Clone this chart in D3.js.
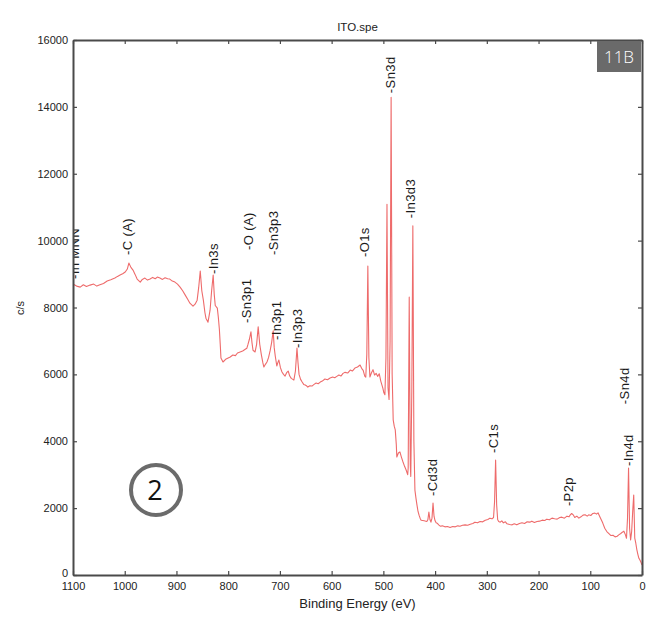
<!DOCTYPE html>
<html>
<head>
<meta charset="utf-8">
<script src="https://cdn.jsdelivr.net/npm/d3@7"></script>
<style>
  html, body { margin: 0; padding: 0; background: #fff; }
  svg { display: block; font-family: "Liberation Sans", Arial, Helvetica, sans-serif; }
</style>
</head>
<body>
<svg id="chart" width="653" height="636"></svg>
<script>
// XPS survey spectrum of an ITO film: binding energy (eV) vs counts per second
const energy = [
  1100,1093,1086,1080,1074,1067,1060,1054,1048,1041,1034,1027,1019,1014,1009,1004,999,995,992,988,
  984,980,976,970,966,961,956,951,946,941,937,932,927,922,917,913,908,903,898,893,
  888,883,878,874,870,868,864,860,857,854,851,848,845,843,839,835,832,829,827,825,
  821,819,817,815,814,810,805,800,796,791,786,782,777,772,767,764,762,759,756,754,
  752,748,745,742,739,736,733,731,728,725,722,719,716,713,711,709,706,704,702,699,
  696,693,690,687,684,681,678,675,673,670,667,665,663,660,657,654,651,648,646,642,
  638,634,630,626,622,618,613,608,603,598,594,590,586,582,578,574,569,564,560,555,
  550,545,542,539,536,534,532,530,528,526,523,520,517,514,511,508,505,501,499,497,
  495,493,491,489,487,485,483,481,479,477,475,474,471,468,465,462,459,456,453,452,
  450,448,447,445,443,441,439,437,435,433,431,429,427,424,421,418,416,414,412,410,
  408,406,404,402,400,398,396,393,390,386,381,376,371,366,361,356,352,347,342,337,
  332,327,323,318,313,308,303,298,294,290,287,285,283,281,279,277,274,271,268,264,
  261,256,251,247,242,237,232,227,222,217,213,208,203,198,193,188,184,179,174,169,
  164,159,155,150,145,141,139,136,133,130,126,122,118,114,110,106,103,99,95,91,
  88,85,82,79,76,72,68,64,60,56,52,48,45,41,38,35,32,30,28,26,
  24,22,20,18,16,14,12,10,8,6,4,2,0
];
const counts = [
  8700,8640,8610,8680,8630,8670,8700,8640,8680,8720,8790,8830,8880,8930,8970,9010,9060,9150,9330,9200,
  9120,8990,8850,8760,8840,8880,8820,8850,8900,8860,8910,8880,8840,8890,8860,8850,8790,8760,8700,8610,
  8500,8370,8240,8130,8070,8040,8100,8220,8600,9090,8500,8220,7850,7680,7560,7920,8500,8970,8400,8060,
  7980,7700,7340,6800,6490,6370,6450,6490,6520,6580,6560,6640,6670,6700,6750,6780,6880,7050,7270,6950,
  6720,6670,6900,7420,6900,6600,6350,6220,6300,6370,6500,6700,6950,7300,6800,6550,6250,6350,6430,6200,
  6070,6000,5950,6050,6100,5950,5880,5850,5830,6100,6790,6350,6000,5850,5770,5700,5680,5650,5620,5660,
  5650,5700,5740,5720,5770,5800,5860,5840,5890,5920,5900,5940,5980,5950,6030,6060,6040,6130,6100,6190,
  6220,6280,6180,6120,5950,5920,6600,9240,6500,5920,6050,6140,5980,6030,5940,6020,5800,5590,5450,5390,
  6500,11090,5600,5250,7000,14290,6000,4640,4450,4340,3900,3530,3650,3680,3520,3380,3250,3140,3000,3200,
  8310,3300,2950,5500,10440,4000,2540,2300,2090,1900,1790,1700,1640,1630,1620,1610,1600,1650,1880,1660,
  1580,1700,2150,1750,1620,1560,1550,1500,1460,1470,1440,1450,1420,1450,1440,1470,1460,1490,1500,1490,
  1520,1540,1580,1560,1600,1590,1640,1660,1700,1680,1720,2200,3440,2100,1650,1600,1580,1620,1560,1590,
  1530,1510,1500,1530,1500,1540,1560,1540,1590,1580,1610,1570,1600,1610,1640,1630,1670,1650,1700,1680,
  1670,1720,1730,1700,1760,1740,1790,1840,1800,1720,1760,1700,1740,1790,1800,1760,1800,1780,1840,1850,
  1820,1860,1760,1660,1560,1400,1300,1240,1180,1190,1140,1160,1200,1240,1280,1310,1200,1100,1700,3200,
  1400,1050,1300,1900,2390,1100,950,760,620,500,450,380,300
];

// Peak annotations: label text, energy of the label, count level where the label starts
const peakNames  = ["-In MNN","-C (A)","-In3s","-O (A)","-Sn3p3","-Sn3p1","-In3p1","-In3p3","-O1s","-Sn3d","-In3d3","-Cd3d","-C1s","-P2p","-In4d","-Sn4d"];
const peakEnergy = [1098, 994, 829, 760, 713, 765, 706, 667, 537, 487, 448, 406, 288, 143, 27, 33];
const peakLevel  = [8850, 9570, 9000, 9720, 9570, 7535, 7030, 6790, 9510, 14410, 10670, 2360, 3650, 2060, 3260, 5110];

const xTicks = [1100,1000,900,800,700,600,500,400,300,200,100,0];
const yTicks = [0,2000,4000,6000,8000,10000,12000,14000,16000];

const svg = d3.select("#chart");
const plot = { left: 73, right: 642, top: 40, bottom: 575 };

const x = d3.scaleLinear().domain([1100, 0]).range([plot.left, plot.right]);
const y = d3.scaleLinear().domain([0, 16000]).range([plot.bottom, plot.top]);

svg.append("defs").append("clipPath").attr("id", "plotClip")
  .append("rect")
  .attr("x", plot.left).attr("y", plot.top)
  .attr("width", plot.right - plot.left).attr("height", plot.bottom - plot.top);

// spectrum trace
const points = energy.map((e, i) => [e, counts[i]]);
const line = d3.line().x(d => x(d[0])).y(d => y(d[1]));
svg.append("path")
  .datum(points)
  .attr("clip-path", "url(#plotClip)")
  .attr("fill", "none")
  .attr("stroke", "#ee6b6b")
  .attr("stroke-width", 1.1)
  .attr("stroke-linejoin", "round")
  .attr("d", line);

// peak labels, rotated to read upward
svg.append("g").attr("clip-path", "url(#plotClip)")
  .selectAll("text")
  .data(peakNames)
  .join("text")
  .attr("transform", (d, i) => `translate(${x(peakEnergy[i])},${y(peakLevel[i])}) rotate(-90)`)
  .attr("dy", "0.35em")
  .attr("font-size", 13)
  .attr("letter-spacing", 0.4)
  .attr("fill", "#1a1a1a")
  .text(d => d);

// axes with inward ticks on all four sides
const axisColor = "#4a4a4a";
function styleAxis(g) {
  g.select(".domain").attr("stroke", axisColor).attr("stroke-width", 2);
  g.selectAll(".tick line").attr("stroke", axisColor).attr("stroke-width", 1.2);
  g.selectAll(".tick text").attr("fill", "#222").attr("font-size", 11)
    .attr("font-family", "'Liberation Sans', Arial, sans-serif");
}

svg.append("g")
  .attr("transform", `translate(0,${plot.bottom})`)
  .call(d3.axisBottom(x).tickValues(xTicks).tickSizeInner(-4).tickSizeOuter(0).tickPadding(7).tickFormat(d3.format("d")))
  .call(styleAxis);

svg.append("g")
  .attr("transform", `translate(0,${plot.top})`)
  .call(d3.axisTop(x).tickValues(xTicks).tickSizeInner(-4).tickSizeOuter(0).tickFormat(""))
  .call(styleAxis);

const yAxisG = svg.append("g")
  .attr("transform", `translate(${plot.left},0)`)
  .call(d3.axisLeft(y).tickValues(yTicks).tickSizeInner(-4).tickSizeOuter(0).tickPadding(5).tickFormat(d3.format("d")))
  .call(styleAxis);
// lift the zero label so it clears the first x tick label
yAxisG.selectAll(".tick text").filter(d => d === 0).attr("dy", "0.1em");

svg.append("g")
  .attr("transform", `translate(${plot.right},0)`)
  .call(d3.axisRight(y).tickValues(yTicks).tickSizeInner(-4).tickSizeOuter(0).tickFormat(""))
  .call(styleAxis);

// titles
svg.append("text")
  .attr("x", (plot.left + plot.right) / 2).attr("y", 31)
  .attr("text-anchor", "middle").attr("font-size", 11.5).attr("fill", "#222")
  .text("ITO.spe");

svg.append("text")
  .attr("x", (plot.left + plot.right) / 2).attr("y", 608)
  .attr("text-anchor", "middle").attr("font-size", 13).attr("fill", "#222")
  .text("Binding Energy (eV)");

svg.append("text")
  .attr("transform", `translate(24,308) rotate(-90)`)
  .attr("text-anchor", "middle").attr("font-size", 11).attr("fill", "#222")
  .text("c/s");

// figure tag in the corner
svg.append("rect")
  .attr("x", 597).attr("y", 41).attr("width", 44).attr("height", 31)
  .attr("fill", "#6a6a6a");
svg.append("text")
  .attr("x", 619).attr("y", 63)
  .attr("text-anchor", "middle").attr("font-size", 17).attr("fill", "#fff")
  .attr("font-family", "'Open Sans', sans-serif").attr("font-weight", 300)
  .text("11B");

// sample number marker
svg.append("circle")
  .attr("cx", 156).attr("cy", 490).attr("r", 25)
  .attr("fill", "#fff").attr("stroke", "#6b6b6b").attr("stroke-width", 4);
svg.append("text")
  .attr("x", 155).attr("y", 500)
  .attr("text-anchor", "middle").attr("font-size", 27).attr("fill", "#111")
  .attr("font-family", "'Open Sans', sans-serif")
  .text("2");
</script>
</body>
</html>
